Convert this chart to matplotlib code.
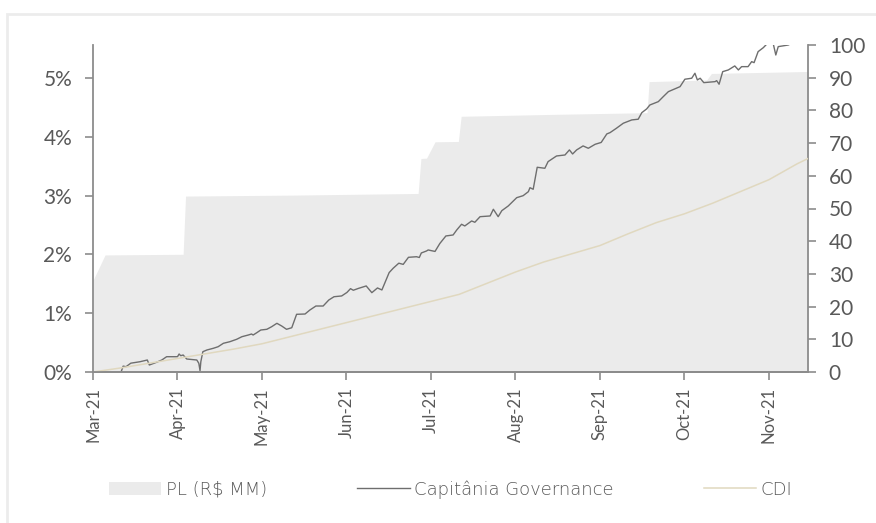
import matplotlib
matplotlib.use("Agg")
import matplotlib.pyplot as plt
from matplotlib.patches import Rectangle, Patch
from matplotlib.lines import Line2D

# x = trading day since 1-Mar-21 (one tick every 21 days)
month_labels = ["Mar-21", "Apr-21", "May-21", "Jun-21", "Jul-21",
                "Aug-21", "Sep-21", "Oct-21", "Nov-21"]

# Capitânia Governance, cumulative return (%)
cap_day = [0, 2, 4, 6, 7, 7.5, 8.2, 9.4, 11.7, 13.5, 14.0, 15.8, 17.1, 18.3, 21.0,
           21.4, 21.8, 22.4, 23.3, 25.8, 26.3, 26.6, 26.8, 27.3, 28.3, 29.9, 31.1,
           32.4, 34.0, 35.7, 37.0, 38.6, 39.4, 39.8, 40.7, 41.7, 43.2, 44.4, 45.7,
           46.9, 48.1, 49.4, 50.6, 52.7, 53.9, 55.4, 57.2, 58.6, 59.9, 61.8, 63.1,
           64.0, 64.7, 65.9, 67.9, 69.3, 70.7, 71.8, 73.6, 74.6, 76.0, 77.1, 78.4,
           80.4, 81.1, 81.6, 82.9, 83.3, 85.0, 86.2, 87.7, 89.5, 90.4, 91.6, 92.4,
           94.1, 94.9, 96.2, 98.7, 99.5, 100.7, 101.6, 103.2, 105.3, 106.9, 108.2,
           108.6, 109.4, 110.4, 112.3, 113.1, 115.2, 117.3, 118.4, 119.2, 120.2,
           121.8, 123.1, 124.8, 126.3, 127.7, 128.5, 130.1, 131.8, 133.9, 135.5,
           136.4, 137.6, 138.4, 140.5, 141.7, 143.0, 145.9, 147.1, 148.8, 149.6,
           150.2, 150.9, 151.8, 154.6, 155.0, 155.6, 156.5, 157.9, 159.5, 160.4,
           161.2, 162.8, 163.7, 164.3, 165.3, 166.6, 167.8, 169.0, 169.7, 170.3,
           172.8, 174.5, 177.7]
cap_ret = [0.0, -0.05, -0.10, -0.05, 0.005, 0.10, 0.09, 0.15, 0.175, 0.204, 0.119,
           0.165, 0.204, 0.26, 0.26, 0.306, 0.277, 0.289, 0.221, 0.204, 0.148, 0.022,
           0.175, 0.345, 0.374, 0.403, 0.43, 0.488, 0.515, 0.556, 0.60, 0.629, 0.646,
           0.629, 0.668, 0.714, 0.726, 0.77, 0.828, 0.782, 0.726, 0.753, 0.981, 0.986,
           1.054, 1.122, 1.122, 1.224, 1.28, 1.293, 1.352, 1.417, 1.39, 1.42, 1.463,
           1.349, 1.429, 1.395, 1.69, 1.764, 1.85, 1.83, 1.95, 1.96, 1.947, 2.024,
           2.058, 2.075, 2.05, 2.185, 2.313, 2.33, 2.415, 2.512, 2.483, 2.568, 2.546,
           2.641, 2.653, 2.767, 2.641, 2.743, 2.823, 2.964, 2.998, 3.066, 3.134,
           3.107, 3.481, 3.464, 3.577, 3.673, 3.69, 3.776, 3.707, 3.776, 3.844,
           3.804, 3.872, 3.903, 4.048, 4.07, 4.145, 4.23, 4.286, 4.298, 4.41, 4.473,
           4.54, 4.597, 4.68, 4.767, 4.852, 4.978, 4.995, 5.08, 4.966, 4.995, 4.92,
           4.937, 4.954, 4.893, 5.107, 5.136, 5.204, 5.136, 5.192, 5.192, 5.277,
           5.26, 5.447, 5.515, 5.60, 5.60, 5.39, 5.532, 5.56, 5.62, 5.68]

# CDI, cumulative (%)
cdi_day = [0, 7, 14, 21, 28, 35, 42, 49, 56, 63, 70, 77, 84, 91, 98, 105, 112,
           119, 126, 133, 140, 147, 154, 161, 168, 175, 177.7]
cdi_ret = [0.00, 0.07, 0.15, 0.23, 0.31, 0.39, 0.48, 0.60, 0.72, 0.84, 0.96, 1.08,
           1.20, 1.32, 1.51, 1.70, 1.87, 2.01, 2.15, 2.35, 2.54, 2.69, 2.87, 3.07,
           3.27, 3.54, 3.63]

# PL (R$ MM), right axis
pl_day = [0, 3, 22.4, 23.0, 50, 80.8, 81.5, 82.9, 85.0, 90.8, 91.5, 115, 137.7,
          138.2, 152.5, 153.7, 177.7]
pl_val = [28.0, 35.8, 36.0, 53.8, 54.1, 54.6, 65.3, 65.4, 70.4, 70.5, 78.2, 78.8,
          79.3, 88.8, 89.3, 91.3, 91.9]

txt = "#595959"
spine = "#8c8c8c"
plt.rcParams['font.family'] = ['Lato', 'DejaVu Sans']

fig = plt.figure(figsize=(8.76, 5.23), dpi=100)
# light frame around the chart
fig.patches.append(Rectangle((7 / 876, -0.2), 1.2, 1.2 - 14 / 523,
                             transform=fig.transFigure, fill=False,
                             edgecolor="#ececec", linewidth=2))

ax = fig.add_axes([93 / 876, 1 - 372 / 523, (808 - 93) / 876, (372 - 45) / 523])
ax2 = ax.twinx()
ax.set_zorder(ax2.get_zorder() + 1)
ax.patch.set_visible(False)

ax2.fill_between(pl_day, pl_val, 0, color="#ebebeb", linewidth=0)
ax.plot(cap_day, cap_ret, color="#6e6e6e", linewidth=1.0)
ax.plot(cdi_day, cdi_ret, color="#e0d8bf", linewidth=1.1)

ax.set_xlim(0, 177.7)
ax.set_ylim(0, 5.56)
ax2.set_ylim(0, 100)

ax.set_xticks([21 * i for i in range(len(month_labels))])
ax.set_xticklabels(month_labels, rotation=90)
ax.set_yticks(range(6))
ax.set_yticklabels([f"{v}%" for v in range(6)])
ax2.set_yticks(range(0, 101, 10))

for a in (ax, ax2):
    for s in a.spines.values():
        s.set_color(spine)
        s.set_linewidth(1.3)
    a.spines['top'].set_visible(False)
    a.tick_params(colors=spine, labelcolor=txt, length=6, width=1.2)
ax.spines['right'].set_visible(False)
ax2.spines['left'].set_visible(False)
ax.tick_params(axis='y', labelsize=15, pad=9)
ax.tick_params(axis='x', labelsize=12, pad=5)
ax2.tick_params(axis='y', labelsize=15, pad=9)

handles = [Patch(facecolor="#ebebeb", edgecolor="none"),
           Line2D([], [], color="#6e6e6e", linewidth=1.0),
           Line2D([], [], color="#e0d8bf", linewidth=1.1)]
labels = ["PL (R$ MM)", "Capitânia Governance", "CDI"]
fig.legend(handles, labels, loc="center left", bbox_to_anchor=(109 / 876, 1 - 489.5 / 523),
           ncol=3, frameon=False, borderpad=0, borderaxespad=0, handlelength=2.9,
           handletextpad=0.25, columnspacing=5.0,
           prop={'family': 'DejaVu Sans', 'size': 13, 'weight': 'light'},
           labelcolor=txt)

fig.savefig("out.png", dpi=100)
